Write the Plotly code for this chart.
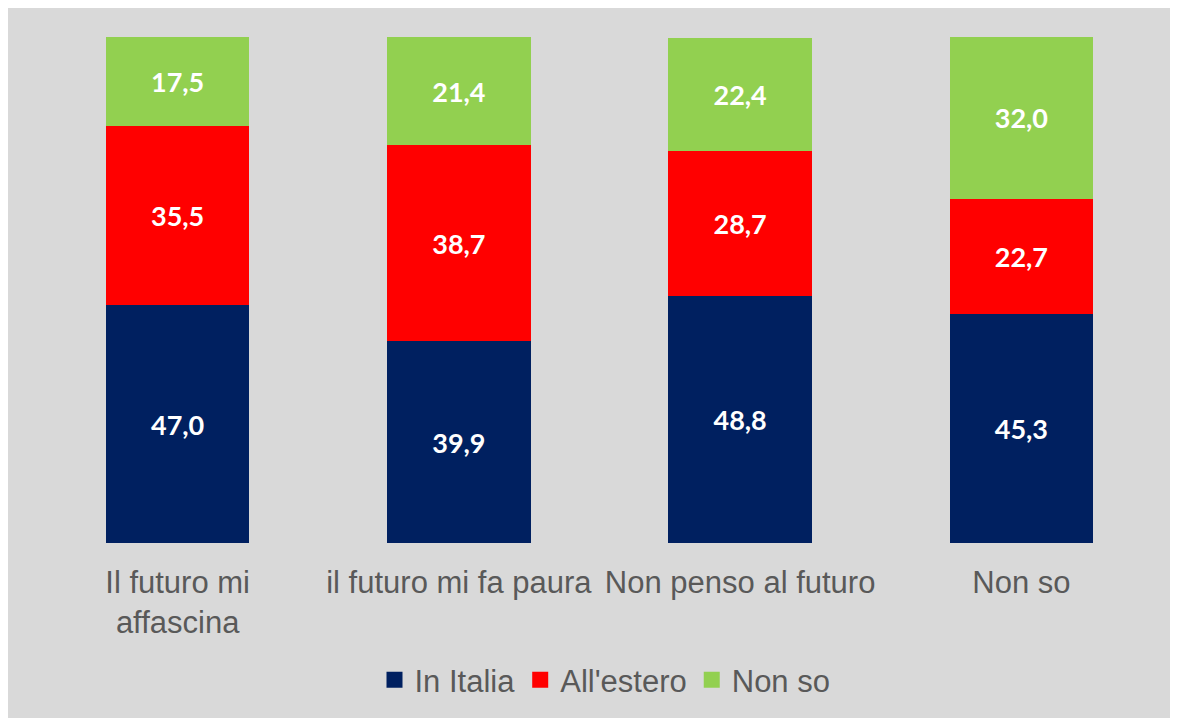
import plotly.graph_objects as go

categories = ["Il futuro mi<br>affascina", "il futuro mi fa paura", "Non penso al futuro", "Non so"]
in_italia = [47.0, 39.9, 48.8, 45.3]
all_estero = [35.5, 38.7, 28.7, 22.7]
non_so = [17.5, 21.4, 22.4, 32.0]

series = [
    ("In Italia", in_italia, "#002060"),
    ("All'estero", all_estero, "#FF0000"),
    ("Non so", non_so, "#92D050"),
]

W, H = 1178, 718
ml, mr, mt, mb = 29, 24, 29, 183
ph = H - mt - mb

fig = go.Figure()
for name, vals, col in series:
    fig.add_trace(go.Bar(
        x=categories, y=vals, name=name, showlegend=False,
        marker=dict(color=col, line=dict(width=0)),
        texttemplate="<b>%{y:.1f}</b>", textposition="inside",
        insidetextanchor="middle",
        textfont=dict(color="white", size=27, family="Lato"),
        width=0.51,
    ))
for name, vals, col in series:
    fig.add_trace(go.Scatter(
        x=[categories[0]], y=[None], name=name, mode="markers",
        marker=dict(symbol="square", size=17, color=col),
        showlegend=True, hoverinfo="skip",
    ))

fig.update_layout(
    width=W, height=H,
    margin=dict(l=ml, r=mr, t=mt, b=mb),
    barmode="stack",
    separators=",.",
    paper_bgcolor="#D9D9D9",
    plot_bgcolor="#D9D9D9",
    legend=dict(orientation="h", x=(605 - 8 - ml) / (W - ml - mr), xanchor="center",
                y=-(672 - 535) / ph, yanchor="middle",
                font=dict(family="Liberation Sans", size=31, color="#595959"),
                bgcolor="rgba(0,0,0,0)", itemwidth=30, itemsizing="trace",
                traceorder="normal"),
    font=dict(family="Liberation Sans", color="#595959"),
)
fig.update_xaxes(tickfont=dict(family="Liberation Sans", size=31, color="#595959"),
                 showline=False, showgrid=False, ticks="", ticklabelstandoff=18)
fig.update_yaxes(range=[0, 100], visible=False, showgrid=False)

fig.write_html("out.html",
               post_script="document.documentElement.style.overflow='hidden';document.body.style.overflow='hidden';")
